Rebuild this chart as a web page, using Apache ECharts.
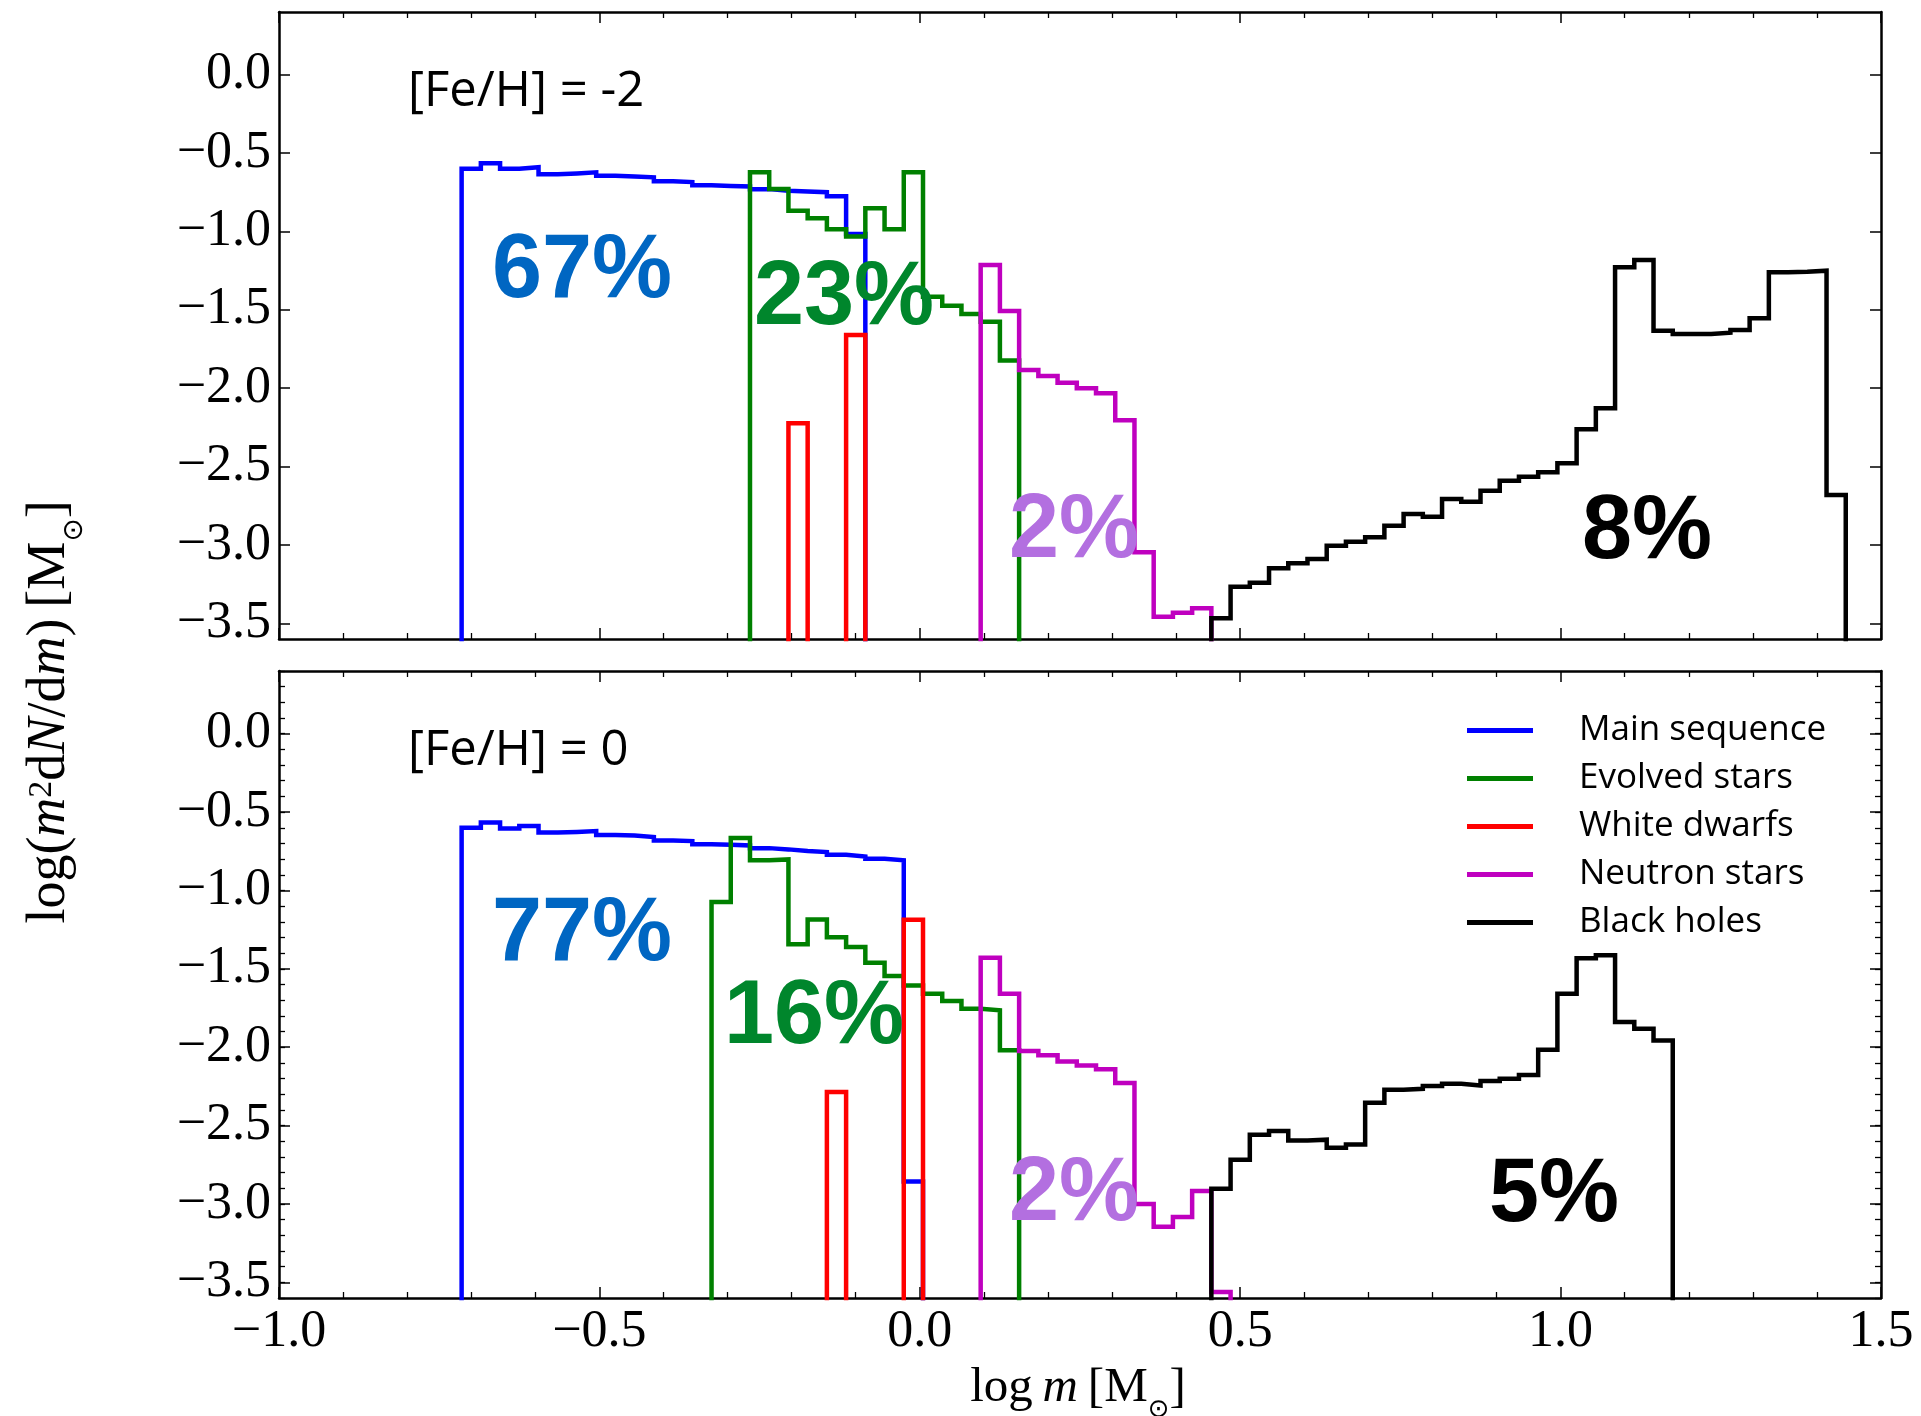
<!DOCTYPE html>
<html><head><meta charset="utf-8">
<script src="https://cdn.jsdelivr.net/npm/echarts@6/dist/echarts.min.js"></script>
<style>html,body{margin:0;padding:0;background:#fff}#c{width:1921px;height:1416px}</style>
</head><body><div id="c"></div>
<script>
// ---- histogram bins (log m), width 0.03 ----
const EDGE0 = -0.715;
const BINW = 0.03;

// ---- series names ----
const names = ['Main sequence', 'Evolved stars', 'White dwarfs', 'Neutron stars', 'Black holes'];
const lineColors = ['#0000ff', '#008000', '#ff0000', '#bf00bf', '#000000'];

// ---- [Fe/H] = -2 (top panel): first bin index + bin values ----
const msA_first = 0;
const msA = [-0.600,-0.565,-0.600,-0.590,-0.635,-0.630,-0.623,-0.645,-0.650,-0.655,-0.680,-0.685,-0.705,-0.710,-0.713,-0.730,-0.740,-0.745,-0.750,-0.775,-1.016];
const esA_first = 15;
const esA = [-0.623,-0.729,-0.868,-0.916,-0.986,-1.033,-0.852,-0.986,-0.623,-1.416,-1.474,-1.527,-1.576,-1.824];
const wdA_first = 17;
const wdA = [-2.224, null, null, -1.661];
const nsA_first = 27;
const nsA = [-1.214,-1.507,-1.884,-1.922,-1.965,-2.001,-2.033,-2.205,-3.046,-3.458,-3.432,-3.404];
const bhA_first = 39;
const bhA = [-3.468,-3.266,-3.241,-3.149,-3.117,-3.090,-3.005,-2.979,-2.951,-2.877,-2.803,-2.820,-2.707,-2.724,-2.654,-2.590,-2.565,-2.537,-2.479,-2.262,-2.128,-1.229,-1.182,-1.633,-1.654,-1.654,-1.646,-1.629,-1.554,-1.261,-1.257,-1.250,-2.681];

// ---- [Fe/H] = 0 (bottom panel) ----
const msB_first = 0;
const msB = [-0.600,-0.566,-0.604,-0.589,-0.631,-0.627,-0.621,-0.647,-0.649,-0.659,-0.681,-0.685,-0.706,-0.708,-0.713,-0.730,-0.738,-0.749,-0.755,-0.772,-0.783,-0.798,-0.808,-2.856];
const esB_first = 13;
const esB = [-1.074,-0.666,-0.808,-0.802,-1.344,-1.185,-1.298,-1.361,-1.461,-1.546,-1.606,-1.659,-1.706,-1.755,-1.765,-2.020];
const wdB_first = 19;
const wdB = [-2.286, null, null, null, -1.187];
const nsB_first = 27;
const nsB = [-1.429,-1.659,-2.025,-2.052,-2.091,-2.116,-2.140,-2.229,-3.000,-3.145,-3.084,-2.918,-3.562];
const bhB_first = 39;
const bhB = [-2.903,-2.718,-2.558,-2.535,-2.595,-2.590,-2.641,-2.620,-2.354,-2.271,-2.265,-2.248,-2.233,-2.244,-2.216,-2.201,-2.177,-2.016,-1.659,-1.432,-1.414,-1.840,-1.882,-1.957];

// ---- tick labels / texts ----
const yTicks = [0.0, -0.5, -1.0, -1.5, -2.0, -2.5, -3.0, -3.5];
const panelLabels = ['[Fe/H] = -2', '[Fe/H] = 0'];
const pctA = ['67%', '23%', '2%', '8%'];
const pctB = ['77%', '16%', '2%', '5%'];
const pctColors = ['#0066c2', '#00862c', '#b36fe0', '#000000'];

const FLOOR = -9;
function edge(k) { return EDGE0 + k * BINW; }
function stepData(first, vals) {
  const pts = [[edge(first), FLOOR]];
  vals.forEach((v, i) => {
    const y = (v === null) ? FLOOR : v;
    pts.push([edge(first + i), y]);
    pts.push([edge(first + i + 1), y]);
  });
  pts.push([edge(first + vals.length), FLOOR]);
  return pts;
}
function fmt(v) {
  const s = Math.abs(v).toFixed(1);
  return v < -1e-9 ? '\u2212' + s : s;
}

const SERIF = "'Liberation Serif','Times New Roman',serif";
const SANS = "'Open Sans',Lato,sans-serif";
const BOLD = "'Liberation Sans',Arial,sans-serif";

const grids = [
  { left: 279, top: 12, width: 1602, height: 627 },
  { left: 279, top: 671, width: 1602, height: 627 }
];

function xAx(g, pos, labels) {
  return {
    type: 'value', gridIndex: g, position: pos, min: -1.0, max: 1.5, interval: 0.5,
    axisLine: { show: true, onZero: false, lineStyle: { color: '#000', width: 2.5 } },
    axisTick: { show: true, inside: true, length: 11, lineStyle: { color: '#000', width: 1.5 } },
    minorTick: { show: true, splitNumber: 5, length: 6, lineStyle: { color: '#000', width: 1.3 } },
    axisLabel: { show: labels, margin: 8, fontFamily: SERIF, fontSize: 52, color: '#000', formatter: fmt },
    splitLine: { show: false }, minorSplitLine: { show: false }
  };
}
function yAx(g, pos, labels) {
  return {
    type: 'value', gridIndex: g, position: pos, min: -3.6, max: 0.4,
    axisLine: { show: true, onZero: false, lineStyle: { color: '#000', width: 2.5 } },
    axisTick: { show: true, inside: true, length: 11, customValues: yTicks, lineStyle: { color: '#000', width: 1.5 } },
    axisLabel: { show: labels, margin: 8, customValues: yTicks, fontFamily: SERIF, fontSize: 52, color: '#000', formatter: fmt },
    splitLine: { show: false }
  };
}
function yMinor(g, pos) {
  return {
    type: 'value', gridIndex: g, position: pos, min: -3.6, max: 0.4, interval: 0.1,
    axisLine: { show: false, onZero: false },
    axisTick: { show: true, inside: true, length: 6, lineStyle: { color: '#000', width: 1.3 } },
    axisLabel: { show: false }, splitLine: { show: false }
  };
}

const xAxes = [xAx(0, 'bottom', false), xAx(0, 'top', false), xAx(1, 'bottom', true), xAx(1, 'top', false)];
const yAxes = [yAx(0, 'left', true), yAx(0, 'right', false), yAx(1, 'left', true), yAx(1, 'right', false), yMinor(1, 'left'), yMinor(1, 'right')];

function mk(nameIdx, first, vals, xi, yi) {
  return {
    type: 'line', name: names[nameIdx], xAxisIndex: xi, yAxisIndex: yi,
    data: stepData(first, vals), symbol: 'none', showSymbol: false, clip: true,
    color: lineColors[nameIdx], silent: true, animation: false,
    lineStyle: { color: lineColors[nameIdx], width: 4.5, join: 'miter', cap: 'butt' }
  };
}
const series = [
  mk(0, msA_first, msA, 0, 0), mk(1, esA_first, esA, 0, 0), mk(2, wdA_first, wdA, 0, 0), mk(3, nsA_first, nsA, 0, 0), mk(4, bhA_first, bhA, 0, 0),
  mk(0, msB_first, msB, 2, 2), mk(1, esB_first, esB, 2, 2), mk(2, wdB_first, wdB, 2, 2), mk(3, nsB_first, nsB, 2, 2), mk(4, bhB_first, bhB, 2, 2)
];

function txt(x, y, text, font, fill) {
  return { type: 'text', x: x, y: y, z: 100, style: { text: text, font: font, fill: fill, align: 'left', verticalAlign: 'middle' } };
}
const pctPos = [[[492, 272], [754, 299], [1009, 532], [1582, 533]], [[492, 935], [724, 1018], [1009, 1195], [1489, 1196]]];
const graphics = [
  txt(408, 92, panelLabels[0], '49px ' + SANS, '#000'),
  txt(408, 751, panelLabels[1], '49px ' + SANS, '#000')
];
[pctA, pctB].forEach((arr, p) => arr.forEach((t, i) => {
  graphics.push(txt(pctPos[p][i][0], pctPos[p][i][1], t, 'bold 90px ' + BOLD, pctColors[i]));
}));

const richY = {
  r: { fontFamily: SERIF, fontSize: 54, lineHeight: 54, verticalAlign: 'top', fill: '#000' },
  i: { fontFamily: SERIF, fontSize: 54, lineHeight: 54, fontStyle: 'italic', verticalAlign: 'top', fill: '#000' },
  sup: { fontFamily: SERIF, fontSize: 34, lineHeight: 34, padding: [2, 0, 0, 0], verticalAlign: 'top', fill: '#000' },
  sub: { fontFamily: "'DejaVu Sans',sans-serif", fontSize: 28, lineHeight: 28, padding: [38, 0, 0, 0], verticalAlign: 'top', fill: '#000' }
};
const richX = {
  r: { fontFamily: SERIF, fontSize: 49, lineHeight: 49, verticalAlign: 'top', fill: '#000' },
  i: { fontFamily: SERIF, fontSize: 49, lineHeight: 49, fontStyle: 'italic', verticalAlign: 'top', fill: '#000' },
  sub: { fontFamily: "'DejaVu Sans',sans-serif", fontSize: 26, lineHeight: 26, padding: [34, 0, 0, 0], verticalAlign: 'top', fill: '#000' }
};
graphics.push({
  type: 'text', x: 50, y: 712, rotation: Math.PI / 2, z: 100,
  style: { text: '{r|log(}{i|m}{sup|2}{r|d}{i|N}{r|/d}{i|m}{r|)\u2009[M}{sub|\u2299}{r|]}', rich: richY, align: 'center', verticalAlign: 'middle' }
});
graphics.push({
  type: 'text', x: 1078, y: 1388, z: 100,
  style: { text: '{r|log\u2009}{i|m}{r|\u2009[M}{sub|\u2299}{r|]}', rich: richX, align: 'center', verticalAlign: 'middle' }
});

const chart = echarts.init(document.getElementById('c'), null, { renderer: 'canvas' });
chart.setOption({
  animation: false,
  backgroundColor: '#fff',
  grid: grids,
  xAxis: xAxes,
  yAxis: yAxes,
  legend: {
    data: names, orient: 'vertical', left: 1462, top: 708, itemWidth: 66, itemHeight: 5, itemGap: 13,
    icon: 'rect', selectedMode: false,
    textStyle: { fontFamily: SANS, fontSize: 35, lineHeight: 34, color: '#000', padding: [0, 0, 0, 41] }
  },
  series: series,
  graphic: graphics
});
</script></body></html>
